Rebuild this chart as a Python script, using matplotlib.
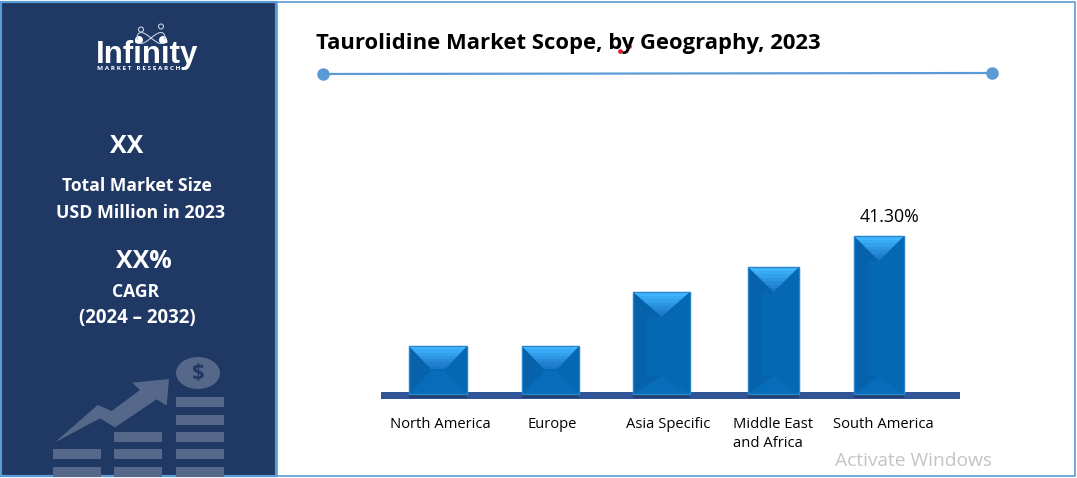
import numpy as np
import matplotlib
matplotlib.use('Agg')
import matplotlib.pyplot as plt
from matplotlib.patches import Rectangle, Polygon, Ellipse, Circle

# values, only the last one is labelled
regions = ['North America', 'Europe', 'Asia Specific', 'Middle East\nand Africa', 'South America']
shares = [12.5, 12.5, 26.7, 33.2, 41.3]
bar_labels = ['', '', '', '', '41.30%']

W, H = 1077, 478
FONT = 'Open Sans'
NAVY = '#1f3864'
EDGE = '#5b9bd5'
ICON = '#56688a'
BODY = '#0468b3'
BASE_Y = 394
PX_PER_UNIT = 158 / 41.3

# pixel layout of the bars, they are not evenly spaced in the picture
centers = [438, 550.5, 661.5, 773.5, 879]
widths = [58, 57, 57, 51, 50]

fig = plt.figure(figsize=(W / 100, H / 100), dpi=100, facecolor='white')

# pixel canvas for everything that is not data
bg = fig.add_axes([0, 0, 1, 1], zorder=0)
bg.set_xlim(0, W)
bg.set_ylim(H, 0)
bg.axis('off')

bg.add_patch(Rectangle((1, 1.5), 275, 474, fc=NAVY, ec=EDGE, lw=1.6))
bg.add_patch(Rectangle((277, 1.5), 798, 474, fc='white', ec=EDGE, lw=1.2))

# logo
bg.text(147.5, 63, 'Infinity', color='white', fontsize=22.5, fontweight='bold',
        family='Liberation Sans', ha='center', va='baseline')
bg.text(139, 68.5, 'M A R K E T   R E S E A R C H', color='white', fontsize=4.6, family=FONT,
        fontweight='bold', ha='center', va='center')
for x, y, r in [(139, 40, 4), (163, 40, 4)]:
    bg.add_patch(Circle((x, y), r, fc='white', ec='none'))
for x, y, r in [(141, 29.5, 2.5), (161, 26.5, 2.5)]:
    bg.add_patch(Circle((x, y), r, fc='none', ec='#c5cfe0', lw=0.8))
t = np.linspace(0, 2 * np.pi, 80)
bg.plot(151 + 14 * np.sin(t), 38 + 5.5 * np.sin(2 * t), color='#c5cfe0', lw=0.8)

# left panel text
side_text = [(127, 146.5, 'XX', 18), (137, 186, 'Total Market Size', 12.6),
             (140, 213, 'USD Million in 2023', 12.8), (144, 261, 'XX%', 18),
             (136, 292, 'CAGR', 12.6), (137, 318.5, '(2024 – 2032)', 13.4)]
for x, y, s, size in side_text:
    bg.text(x, y, s, color='white', fontsize=size, fontweight='bold', family=FONT,
            ha='center', va='center')

# growth icon
stacks = [(53, [449, 467]), (114, [432, 449, 467]), (176, [397, 415, 432, 449, 467])]
for x, rows in stacks:
    for y in rows:
        bg.add_patch(Rectangle((x, y), 48, 10, fc=ICON, ec='none'))
arrow = np.array([(165, 307), (293, 195), (335, 213), (420, 150), (397, 128), (507, 117),
                  (500, 197), (470, 178), (345, 262), (300, 235)]) / 3 + [0, 340]
bg.add_patch(Polygon(arrow, fc=ICON, ec='none'))
bg.add_patch(Ellipse((198, 373), 44, 32, fc=ICON, ec='none'))
bg.text(198, 373.5, '$', color=NAVY, fontsize=16, fontweight='bold', family=FONT, ha='center', va='center')

# title and rule
bg.text(316, 43.5, 'Taurolidine Market Scope, by Geography, 2023', color='black', fontsize=15.8,
        fontweight='bold', family=FONT, ha='left', va='center')
bg.plot([620, 629], [51, 46], ls='none', marker='o', ms=2.4, color='#e0202a')
bg.plot([323, 992], [74, 73], color=EDGE, lw=1.6)
bg.plot([323, 992], [74, 73], ls='none', marker='o', ms=8, color=EDGE)

bg.text(835, 461, 'Activate Windows', color='#c4c4c4', fontsize=13.8, family=FONT, ha='left', va='center')

# chart axes, x in pixels, y in share units
ax = fig.add_axes([381 / W, 1 - BASE_Y / H, 579 / W, BASE_Y / H], zorder=1)
ax.set_xlim(381, 960)
ax.set_ylim(0, BASE_Y / PX_PER_UNIT)
ax.axis('off')
ax.patch.set_alpha(0)

# axis band below the bars
bg.add_patch(Rectangle((381, 392), 579, 6.5, fc='#2f5597', ec='none', zorder=2))

bars = ax.bar(centers, shares, width=widths, color=BODY, edgecolor='#2a86cc', linewidth=0.9,
              zorder=3, clip_on=False)

top_grad = np.linspace(0, 1, 7).reshape(-1, 1)
top_cmap = matplotlib.colors.LinearSegmentedColormap.from_list('bevel', ['#40b4ff', '#1a78c8'])

for bar, label in zip(bars, bar_labels):
    x0, w = bar.get_x(), bar.get_width()
    x1 = x0 + w
    h = bar.get_height()
    mid = x0 + w / 2
    short = h * PX_PER_UNIT < 60
    # short bars keep a flat bevel top, tall ones come to a point
    inset = 22 if short else w / 2
    d = (23 if short else 25) / PX_PER_UNIT
    d_low = d if short else 18 / PX_PER_UNIT
    # bevel faces, low contrast against the body
    ax.add_patch(Polygon([(x0, 0), (x0, h), (x0 + inset, h - d), (x0 + inset, d_low)],
                         fc='#0562ab', ec='none', zorder=4))
    ax.add_patch(Polygon([(x1, 0), (x1, h), (x1 - inset, h - d), (x1 - inset, d_low)],
                         fc=BODY, ec='none', zorder=4))
    ax.add_patch(Rectangle((x0 + 14, d_low), w - 14, h - d - d_low, fc=BODY, ec='none', zorder=4))
    ax.add_patch(Polygon([(x0, 0), (x1, 0), (x1 - inset, d_low), (x0 + inset, d_low)],
                         fc='#076dbb', ec='none', zorder=4))
    tri = Polygon([(x0, h), (x1, h), (x1 - inset, h - d), (x0 + inset, h - d)], fc='none', ec='none', zorder=5)
    ax.add_patch(tri)
    img = ax.imshow(top_grad, extent=[x0, x1, h - d, h], aspect='auto', cmap=top_cmap, origin='upper',
                    interpolation='nearest', zorder=5)
    img.set_clip_path(tri)
    ax.add_patch(Rectangle((x0, 0), w, h, fc='none', ec='#2a86cc', lw=0.9, zorder=6, clip_on=False))
    # soft shadow under the bar
    bg.add_patch(Rectangle((x0, 394), w, 4, fc='#26406f', ec='none', zorder=3))
    if label:
        ax.text(mid + 11, h + 5.0, label, fontsize=12.8, family=FONT, color='black', ha='center', va='center')

ax.set_xlim(381, 960)
ax.set_ylim(0, BASE_Y / PX_PER_UNIT)

label_x = [440, 552, 668, 773.5, 883.5]
for x, name in zip(label_x, regions):
    bg.text(x, 424 if '\n' not in name else 434, name, fontsize=10.6, family=FONT, color='black',
            ha='center', va='center', linespacing=1.3, multialignment='left')

fig.savefig('out.png', dpi=100)
